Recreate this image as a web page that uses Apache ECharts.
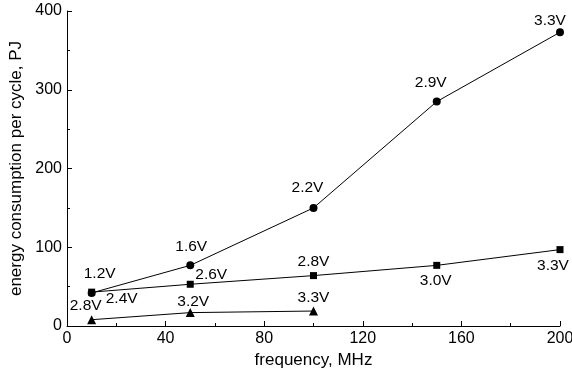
<!DOCTYPE html>
<html>
<head>
<meta charset="utf-8">
<script src="https://cdn.jsdelivr.net/npm/echarts@6/dist/echarts.min.js"></script>
<style>html,body{margin:0;padding:0;background:#fff}#c{width:572px;height:369px}</style>
</head>
<body>
<div id="c"></div>
<script>
// Data
const frequencies = [10, 50, 100, 150, 200];
const circleValues = [42, 77, 150, 285, 373];
const circleLabels = ['1.2V', '1.6V', '2.2V', '2.9V', '3.3V'];
const squareValues = [43, 53, 64, 77, 97];
const squareLabels = ['2.4V', '2.6V', '2.8V', '3.0V', '3.3V'];
const triangleFreqs = [10, 50, 100];
const triangleValues = [8, 17, 19];
const triangleLabels = ['2.8V', '3.2V', '3.3V'];
const xTicks = [0, 40, 80, 120, 160, 200];
const yTicks = [0, 100, 200, 300, 400];

// Label placement (layout only)
const circleOffsets = [[8, -19], [1, -19], [-6, -20], [-6, -19], [-10, -12]];
const squareOffsets = [[30, 7], [21, -10], [0, -14], [-1, 15], [-7, 16]];
const triangleOffsets = [[-6, -14], [3, -11], [0, -13]];

const FONT = 'Liberation Sans, Arial, Helvetica, sans-serif';

function build(xs, ys, labels, offsets) {
  return xs.map((x, i) => ({
    value: [x, ys[i]],
    label: {
      show: true, formatter: labels[i], position: 'inside', offset: offsets[i],
      color: '#000', fontSize: 15.5, fontFamily: FONT, textBorderWidth: 0,
      align: 'center', verticalAlign: 'middle'
    }
  }));
}

function series(data, symbol, size) {
  return {
    type: 'line', data: data, symbol: symbol, symbolSize: size,
    lineStyle: { color: '#000', width: 1 },
    itemStyle: { color: '#000' },
    emphasis: { disabled: true }, animation: false
  };
}

const chart = echarts.init(document.getElementById('c'), null, { renderer: 'canvas' });
chart.setOption({
  animation: false,
  grid: { left: 67, right: 12, top: 11, bottom: 43, containLabel: false, outerBoundsMode: 'none' },
  xAxis: {
    type: 'value', min: xTicks[0], max: xTicks[xTicks.length - 1], interval: xTicks[1] - xTicks[0],
    name: 'frequency, MHz', nameLocation: 'middle', nameGap: 21,
    nameTextStyle: { color: '#000', fontSize: 17, fontFamily: FONT },
    axisLine: { lineStyle: { color: '#000', width: 1 } },
    axisTick: { inside: true, length: 5, lineStyle: { color: '#000' } },
    minorTick: { show: true, splitNumber: 2, length: 3, lineStyle: { color: '#000' } },
    axisLabel: { color: '#000', fontSize: 16, fontFamily: FONT, margin: 5 },
    splitLine: { show: false }
  },
  yAxis: {
    type: 'value', min: yTicks[0], max: yTicks[yTicks.length - 1], interval: yTicks[1] - yTicks[0],
    name: 'energy consumption per cycle, PJ', nameLocation: 'middle', nameGap: 36,
    nameTextStyle: { color: '#000', fontSize: 17, fontFamily: FONT },
    axisLine: { show: true, lineStyle: { color: '#000', width: 1 } },
    axisTick: { show: true, inside: true, length: 5, lineStyle: { color: '#000' } },
    minorTick: { show: true, splitNumber: 2, length: 3, lineStyle: { color: '#000' } },
    axisLabel: { color: '#000', fontSize: 16, fontFamily: FONT, margin: 5 },
    splitLine: { show: false }
  },
  series: [
    series(build(frequencies, circleValues, circleLabels, circleOffsets), 'circle', 8),
    series(build(frequencies, squareValues, squareLabels, squareOffsets), 'rect', 7),
    series(build(triangleFreqs, triangleValues, triangleLabels, triangleOffsets), 'triangle', 9)
  ]
});
</script>
</body>
</html>
